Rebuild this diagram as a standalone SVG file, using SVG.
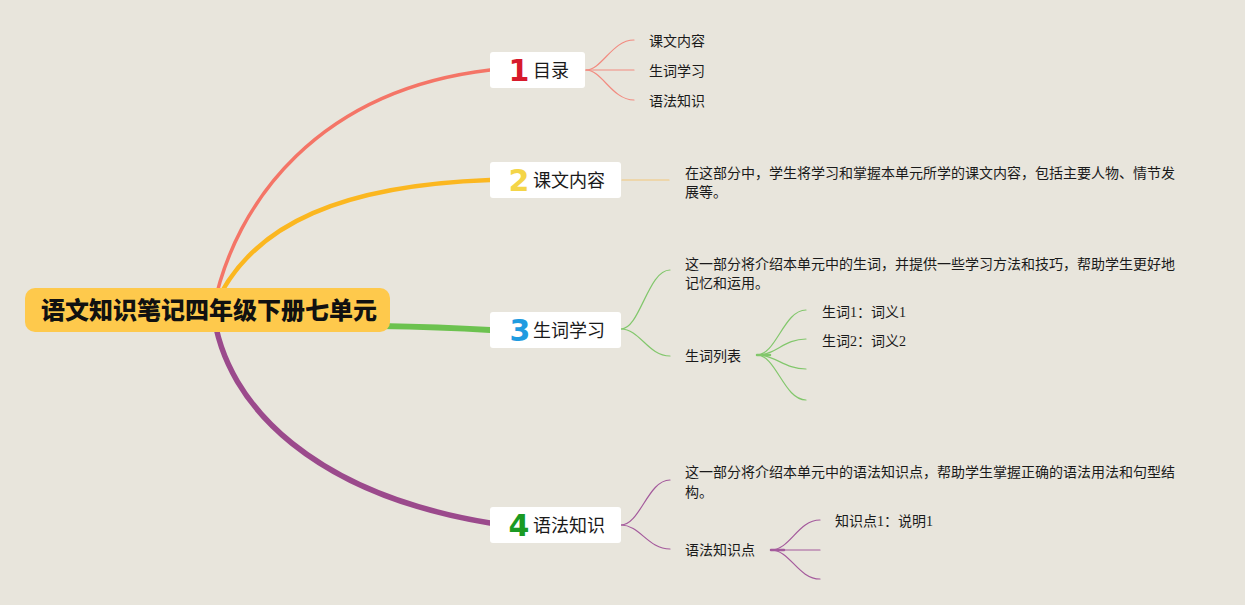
<svg xmlns="http://www.w3.org/2000/svg" width="1245" height="605" viewBox="0 0 1245 605">
<style>
.bg{fill:#e8e5dc}
.box{fill:#ffffff}
.root{fill:#fec94c}
.rt{font-family:"Noto Sans CJK SC",sans-serif;font-weight:900;font-size:24px;fill:#111}
.lb{font-family:"Noto Sans CJK SC",sans-serif;font-size:18px;fill:#1a1a1a}
.num{font-family:"DejaVu Sans",sans-serif;font-weight:bold;font-size:30px}
.tx{font-family:"Liberation Serif","Noto Sans CJK SC",serif;font-size:14px;fill:#1a1a1a}
.m{fill:none;stroke-linecap:round}
.s{fill:none;stroke-width:1.2;stroke-linecap:round}
</style>
<rect class="bg" x="0" y="0" width="1245" height="605"/>
<g id="connectors">
  <path class="m" d="M213 310 C235 200 320 90 490 70" stroke="#f47567" stroke-width="3.5"/>
  <path class="m" d="M213 310 C250 220 350 185 490 180" stroke="#fbb720" stroke-width="4.5"/>
  <path class="m" d="M380 326 Q440 327 490 330" stroke="#6cc24f" stroke-width="6"/>
  <path class="m" d="M213 310 C225 410 320 495 490 523" stroke="#9b4a8c" stroke-width="5.5"/>
  <g stroke="#f28b80">
    <path class="s" d="M586 70 C602 70 612 40 634 40"/>
    <path class="s" d="M586 70 L634 70"/>
    <path class="s" d="M586 70 C602 70 612 100 634 100"/>
  </g>
  <path class="s" d="M622 180 L669 180" stroke="#f1c77a" stroke-width="1.6"/>
  <g stroke="#82c76c">
    <path class="s" d="M621 329 C640 329 648 270 670 270"/>
    <path class="s" d="M621 329 C640 329 648 356 670 356"/>
    <path class="s" d="M757 355 C776 355 784 310 806 310"/>
    <path class="s" d="M757 355 C776 355 784 339 806 339"/>
    <path class="s" d="M757 355 C776 355 784 369 806 369"/>
    <path class="s" d="M757 355 C776 355 784 400 806 400"/>
    <path d="M757 355 L770 355" stroke-width="2.5" stroke-linecap="round"/>
  </g>
  <g stroke="#a45a9c">
    <path class="s" d="M621 525 C640 525 648 480 670 480"/>
    <path class="s" d="M621 525 C640 525 648 549 670 549"/>
    <path class="s" d="M771 550 C790 550 798 520 820 520"/>
    <path class="s" d="M771 550 L820 550"/>
    <path class="s" d="M771 550 C790 550 798 579 820 579"/>
    <path d="M771 550 L784 550" stroke-width="2.5" stroke-linecap="round"/>
  </g>
</g>
<g id="root">
  <rect class="root" x="25" y="288" width="365" height="44" rx="10"/>
  <text class="rt" x="41" y="318.5">语文知识笔记四年级下册七单元</text>
</g>
<g id="node1">
  <rect class="box" x="490" y="52" width="95" height="36" rx="3"/>
  <text class="num" x="519" y="81" text-anchor="middle" fill="#d71a2b">1</text>
  <text class="lb" x="533" y="76.5">目录</text>
</g>
<g id="node1-1"><text class="tx" x="649" y="46">课文内容</text></g>
<g id="node1-2"><text class="tx" x="649" y="76">生词学习</text></g>
<g id="node1-3"><text class="tx" x="649" y="106">语法知识</text></g>
<g id="node2">
  <rect class="box" x="490" y="162" width="131" height="36" rx="3"/>
  <text class="num" x="519" y="191" text-anchor="middle" fill="#f4d548">2</text>
  <text class="lb" x="533" y="186.5">课文内容</text>
</g>
<g id="node2-1">
  <text class="tx" x="685" y="177.5">在这部分中，学生将学习和掌握本单元所学的课文内容，包括主要人物、情节发</text>
  <text class="tx" x="685" y="197">展等。</text>
</g>
<g id="node3">
  <rect class="box" x="490" y="312" width="131" height="36" rx="3"/>
  <text class="num" x="520" y="341" text-anchor="middle" fill="#1f9be0">3</text>
  <text class="lb" x="533" y="336.5">生词学习</text>
</g>
<g id="node3-1">
  <text class="tx" x="685" y="268.5">这一部分将介绍本单元中的生词，并提供一些学习方法和技巧，帮助学生更好地</text>
  <text class="tx" x="685" y="288">记忆和运用。</text>
</g>
<g id="node3-2"><text class="tx" x="685" y="361">生词列表</text></g>
<g id="node3-2-1"><text class="tx" x="822" y="317">生词1：词义1</text></g>
<g id="node3-2-2"><text class="tx" x="822" y="346">生词2：词义2</text></g>
<g id="node4">
  <rect class="box" x="490" y="507" width="131" height="36" rx="3"/>
  <text class="num" x="519" y="536" text-anchor="middle" fill="#1a9a23">4</text>
  <text class="lb" x="533" y="531.5">语法知识</text>
</g>
<g id="node4-1">
  <text class="tx" x="685" y="476.5">这一部分将介绍本单元中的语法知识点，帮助学生掌握正确的语法用法和句型结</text>
  <text class="tx" x="685" y="496.5">构。</text>
</g>
<g id="node4-2"><text class="tx" x="685" y="555">语法知识点</text></g>
<g id="node4-2-1"><text class="tx" x="835" y="526">知识点1：说明1</text></g>
</svg>
